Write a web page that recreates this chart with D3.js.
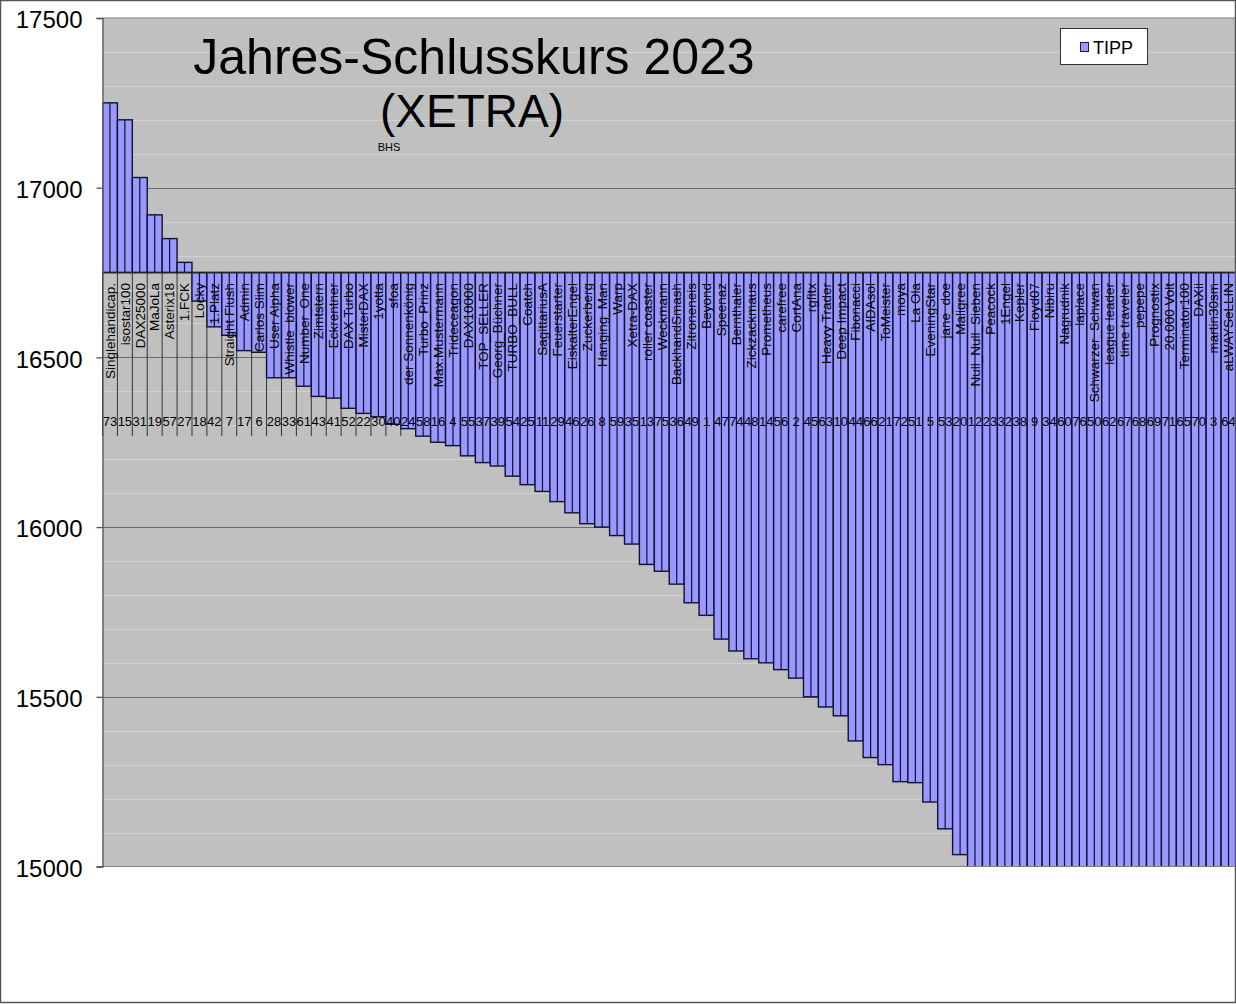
<!DOCTYPE html>
<html lang="de">
	<head>
		<meta charset="utf-8">
		<title>Jahres-Schlusskurs 2023 (XETRA)</title>
		<script type="text/javascript" src="https://d3js.org/d3.v7.min.js"></script>
		<style type="text/css">
			body {
				margin: 0;
				background-color: white;
			}
			text {
				font-family: "Liberation Sans", Arial, sans-serif;
				fill: #000;
			}
		</style>
	</head>
	<body>

		<script type="text/javascript">

			// Tipper names, in chart order
			var names = ["Singlehandicap.", "isostar100", "DAX25000", "MaJoLa", "Asterix18", "1.FCK", "Locky", "1.Platz",
				"Straight Flush", "Admin", "Carlos Slim", "User Alpha", "Whistle_blower", "Number_One", "Zimtstern",
				"Eckrentner", "DAX Turbo", "MisterDAX", "1yotta", "sfoa", "der Sonnenkönig", "Turbo_Prinz",
				"Max.Mustermann", "Trideceagon", "DAX10000", "TOP_SELLER", "Georg_Büchner", "TURBO_BULL", "Coatch",
				"SagittariusA", "Feuerstarter", "EiskalterEngel", "Zuckerberg", "Hanging_Man", "Warp", "Xetra-DAX",
				"roller coaster", "Weckmann", "BackhandSmash", "Zitroneneis", "Beyond", "Speenaz", "Bernthaler",
				"Zickzackmaus", "Prometheus", "carefree", "CortAna", "rgfltx", "Heavy Trader", "Deep Impact",
				"Fibonacci", "AIDAsol", "ToMeister", "moya", "La Ola", "EveningStar", "jane_doe", "Maligree",
				"Null_Null_Sieben", "Peacock", "1Engel", "Kepler", "Floyd07", "Nibiru", "Nagrudnik", "laplace",
				"Schwarzer_Schwan", "league leader", "time traveler", "pepepe", "Prognostix", "20.000 Volt",
				"Terminator100", "DAXii", "martin30sm", "aLWAYSeLLIN"];

			// second label row (participant number)
			var nummern = [73, 15, 31, 19, 57, 27, 18, 42, 7, 17, 6, 28, 33, 61, 43, 41, 52, 22, 30, 40,
				24, 58, 16, 4, 55, 37, 39, 54, 25, 11, 29, 46, 26, 8, 59, 35, 13, 75, 36, 49,
				1, 47, 74, 48, 14, 56, 2, 45, 63, 10, 44, 66, 21, 72, 51, 5, 53, 20, 12, 23,
				32, 38, 9, 34, 60, 76, 50, 62, 67, 68, 69, 71, 65, 70, 3, 64];

			// TIPP series
			var tipp = [17250, 17200, 17030, 16920, 16850, 16780, 16666, 16590, 16565, 16520, 16515, 16440, 16440,
				16415, 16385, 16380, 16350, 16335, 16325, 16303, 16290, 16268, 16250, 16240, 16210, 16190, 16180,
				16150, 16125, 16105, 16075, 16042, 16010, 16000, 15975, 15950, 15890, 15870, 15832, 15777, 15740,
				15670, 15635, 15612, 15600, 15580, 15555, 15500, 15470, 15444, 15370, 15321, 15300, 15250, 15247,
				15190, 15111, 15035, 14990, 14950, 14900, 14870, 14850, 14800, 14777, 14750, 14700, 14650, 14600,
				14500, 14450, 14400, 14300, 14200, 14000, 13800];

			var yTicks = [15000, 15500, 16000, 16500, 17000, 17500];
			var basis = 16750;

			var data = names.map(function(n, i) {
				return {name: n, nr: nummern[i], tipp: tipp[i]};
			});

			var W = 1236, H = 1004;
			var pLeft = 102.5, pRight = 1236, pTop = 18, pBottom = 866.5;

			var svg = d3.select("body")
						.append("svg")
						.attr("width", W)
						.attr("height", H);

			var x = d3.scaleBand()
					.domain(names)
					.range([pLeft, pRight])
					.padding(0);

			var y = d3.scaleLinear()
					.domain([15000, 17500])
					.range([pBottom, pTop]);

			svg.append("defs").append("clipPath")
				.attr("id", "plot")
				.append("rect")
				.attr("x", pLeft)
				.attr("y", pTop)
				.attr("width", pRight - pLeft)
				.attr("height", pBottom - pTop);

			// plot area
			svg.append("rect")
				.attr("x", pLeft)
				.attr("y", pTop)
				.attr("width", pRight - pLeft)
				.attr("height", pBottom - pTop)
				.attr("fill", "#c0c0c0");

			// minor grid every 100
			svg.selectAll("line.minor")
				.data(d3.range(15100, 17500, 100).filter(function(v) { return v % 500 != 0; }))
				.enter()
				.append("line")
				.attr("class", "minor")
				.attr("x1", pLeft)
				.attr("x2", pRight)
				.attr("y1", function(d) { return Math.round(y(d)) + 0.5; })
				.attr("y2", function(d) { return Math.round(y(d)) + 0.5; })
				.attr("stroke", "#d2d2d2")
				.attr("stroke-width", 1);

			svg.selectAll("line.major")
				.data(yTicks.slice(1, 5))
				.enter()
				.append("line")
				.attr("class", "major")
				.attr("x1", pLeft)
				.attr("x2", pRight)
				.attr("y1", function(d) { return Math.round(y(d)) + 0.5; })
				.attr("y2", function(d) { return Math.round(y(d)) + 0.5; })
				.attr("stroke", "#6a6a6a")
				.attr("stroke-width", 1);

			// separators of the two-level category axis
			svg.selectAll("line.sep")
				.data(names)
				.enter()
				.append("line")
				.attr("class", "sep")
				.attr("x1", function(d) { return x(d); })
				.attr("x2", function(d) { return x(d); })
				.attr("y1", y(basis))
				.attr("y2", 436)
				.attr("stroke", "#333")
				.attr("stroke-width", 1);

			var bars = svg.append("g").attr("clip-path", "url(#plot)");

			bars.selectAll("rect")
				.data(data)
				.enter()
				.append("rect")
				.attr("x", function(d) { return x(d.name); })
				.attr("y", function(d) { return Math.min(y(d.tipp), y(basis)); })
				.attr("width", x.bandwidth())
				.attr("height", function(d) { return Math.abs(y(d.tipp) - y(basis)); })
				.attr("fill", "#9999ff")
				.attr("stroke", "#111130")
				.attr("stroke-width", 1.4);

			bars.selectAll("line")
				.data(data)
				.enter()
				.append("line")
				.attr("x1", function(d) { return x(d.name) + x.bandwidth() / 2; })
				.attr("x2", function(d) { return x(d.name) + x.bandwidth() / 2; })
				.attr("y1", y(basis))
				.attr("y2", function(d) { return y(d.tipp); })
				.attr("stroke", "#111130")
				.attr("stroke-width", 1.2);

			// category axis at 16750
			svg.append("line")
				.attr("x1", pLeft)
				.attr("x2", pRight)
				.attr("y1", y(basis))
				.attr("y2", y(basis))
				.attr("stroke", "#222")
				.attr("stroke-width", 1.5);

			svg.selectAll("text.name")
				.data(data)
				.enter()
				.append("text")
				.attr("class", "name")
				.attr("transform", function(d) {
					return "translate(" + (x(d.name) + x.bandwidth() / 2) + ",283) rotate(-90)";
				})
				.attr("text-anchor", "end")
				.attr("dy", "0.35em")
				.style("font-size", "13.5px")
				.text(function(d) { return d.name; });

			svg.selectAll("text.nr")
				.data(data)
				.enter()
				.append("text")
				.attr("class", "nr")
				.attr("x", function(d) { return x(d.name) + x.bandwidth() / 2; })
				.attr("y", 421)
				.attr("dy", "0.35em")
				.attr("text-anchor", "middle")
				.style("font-size", "13px")
				.text(function(d) { return d.nr; });

			// plot frame / value axis
			svg.append("line")
				.attr("x1", pLeft).attr("x2", pRight)
				.attr("y1", pTop).attr("y2", pTop)
				.attr("stroke", "#808080");
			svg.append("line")
				.attr("x1", pLeft).attr("x2", pRight)
				.attr("y1", pBottom).attr("y2", pBottom)
				.attr("stroke", "#808080");

			var yAxis = d3.axisLeft(y)
						.tickValues(yTicks)
						.tickSize(6)
						.tickPadding(14)
						.tickFormat(d3.format("d"));

			var ga = svg.append("g")
					.attr("transform", "translate(" + pLeft + ",0)")
					.call(yAxis);
			ga.selectAll("path, line").attr("stroke", "#555").attr("stroke-width", 1.3);
			ga.selectAll("text")
				.attr("dy", "0.4em")
				.style("font-size", "24px")
				.style("font-family", "'Liberation Sans', Arial, sans-serif")
				.attr("fill", "#000");

			// title
			svg.append("text")
				.attr("x", 474)
				.attr("y", 74)
				.attr("text-anchor", "middle")
				.style("font-size", "50px")
				.text("Jahres-Schlusskurs 2023");

			svg.append("text")
				.attr("x", 472)
				.attr("y", 127)
				.attr("text-anchor", "middle")
				.style("font-size", "46px")
				.text("(XETRA)");

			svg.append("text")
				.attr("x", 389)
				.attr("y", 151)
				.attr("text-anchor", "middle")
				.style("font-size", "11px")
				.text("BHS");

			// legend
			var lg = svg.append("g");
			lg.append("rect")
				.attr("x", 1060.5).attr("y", 28.5)
				.attr("width", 87).attr("height", 36)
				.attr("fill", "white")
				.attr("stroke", "#333");
			lg.append("rect")
				.attr("x", 1080.5).attr("y", 42.5)
				.attr("width", 8).attr("height", 9)
				.attr("fill", "#9999ff")
				.attr("stroke", "#1a1a3a");
			lg.append("text")
				.attr("x", 1093)
				.attr("y", 54)
				.style("font-size", "18px")
				.text("TIPP");

			// chart border
			svg.append("rect")
				.attr("x", 0.5).attr("y", 0.5)
				.attr("width", W - 1).attr("height", H - 2)
				.attr("fill", "none")
				.attr("stroke", "#555")
				.attr("stroke-width", 1.5);

		</script>

	</body>
</html>
